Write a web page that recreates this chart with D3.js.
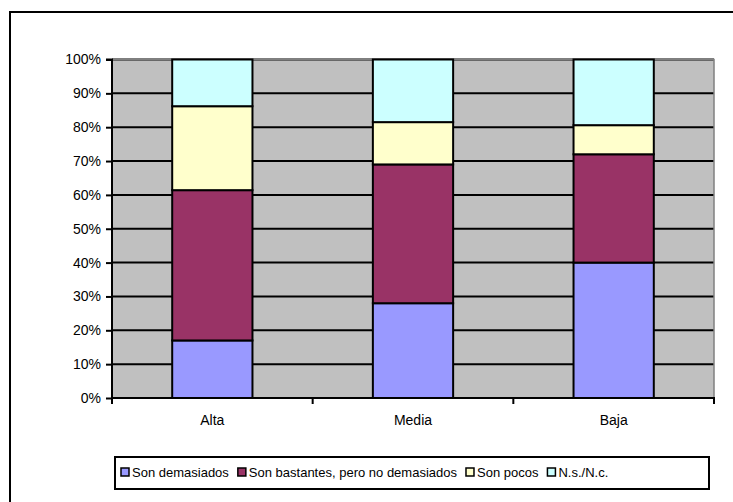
<!DOCTYPE html>
<html><head><meta charset="utf-8">
<script src="https://cdn.jsdelivr.net/npm/d3@7"></script>
<style>body{margin:0;background:#fff}svg{display:block}text{font-family:"Liberation Sans",Arial,sans-serif}</style>
</head><body><svg id="c" width="733" height="502"></svg>
<script>
const categories = ["Alta", "Media", "Baja"];
const seriesNames = ["Son demasiados", "Son bastantes, pero no demasiados", "Son pocos", "N.s./N.c."];
const demasiados = [17, 28, 40];
const bastantes = [44.4, 41, 32];
const pocos = [24.8, 12.5, 8.6];
const nsnc = [13.8, 18.5, 19.4];
const colors = ["#9999FF", "#993366", "#FFFFCC", "#CCFFFF"];
const yTicks = [0,10,20,30,40,50,60,70,80,90,100];

const svg = d3.select("#c");
const L = 112, R = 714, T = 59.5, B = 398;
const x = d3.scaleBand().domain(categories).range([L, R]).paddingInner(0.6).paddingOuter(0.3);
const y = d3.scaleLinear().domain([0, 100]).range([B, T]);

// outer frame
svg.append("rect").attr("x", 10).attr("y", 12).attr("width", 740).attr("height", 500)
  .attr("fill", "none").attr("stroke", "#000").attr("stroke-width", 2);

// plot background
svg.append("rect").attr("x", L).attr("y", T).attr("width", R - L).attr("height", B - T).attr("fill", "#C0C0C0");
// gridlines
svg.append("g").selectAll("line").data(yTicks.slice(1)).join("line")
  .attr("x1", L).attr("x2", R).attr("y1", d => y(d)).attr("y2", d => y(d))
  .attr("stroke", "#000").attr("stroke-width", 2);
// plot border right/top gray
svg.append("path").attr("d", `M${L},${T}H${R}V${B}`).attr("fill", "none").attr("stroke", "#808080").attr("stroke-width", 1.5);

// stacked bars
const data = categories.map((c, i) => ({cat: c, v: [demasiados[i], bastantes[i], pocos[i], nsnc[i]]}));
data.forEach(d => {
  let acc = 0;
  d.v.forEach((v, j) => {
    svg.append("rect").attr("x", x(d.cat)).attr("width", x.bandwidth())
      .attr("y", y(Math.min(100, acc + v))).attr("height", y(acc) - y(Math.min(100, acc + v)))
      .attr("fill", colors[j]).attr("stroke", "#000").attr("stroke-width", 2);
    acc += v;
  });
});

// y axis
const yAxis = d3.axisLeft(y).tickValues(yTicks).tickFormat(d => d + "%").tickSize(6).tickPadding(5);
const gy = svg.append("g").attr("transform", `translate(${L},0)`).call(yAxis);
gy.select(".domain").attr("stroke", "#000").attr("stroke-width", 2).attr("d", `M${-6},${T}H0V${B}`);
gy.selectAll(".tick line").attr("stroke", "#000").attr("stroke-width", 2);
gy.selectAll("text").attr("font-size", 14).attr("fill", "#000");

// x axis
const step = (R - L) / categories.length;
const gx = svg.append("g");
gx.append("line").attr("x1", L - 1).attr("x2", R + 1).attr("y1", B).attr("y2", B).attr("stroke", "#000").attr("stroke-width", 2);
gx.selectAll("line.t").data(d3.range(categories.length + 1)).join("line").attr("class", "t")
  .attr("x1", i => L + i * step).attr("x2", i => L + i * step).attr("y1", B).attr("y2", B + 6)
  .attr("stroke", "#000").attr("stroke-width", 2);
gx.selectAll("text").data(categories).join("text")
  .attr("x", d => x(d) + x.bandwidth() / 2).attr("y", 425).attr("text-anchor", "middle")
  .attr("font-size", 14).text(d => d);

// legend
svg.append("rect").attr("x", 115).attr("y", 457).attr("width", 594).attr("height", 32)
  .attr("fill", "#fff").attr("stroke", "#000").attr("stroke-width", 2);
const lg = svg.append("g");
let lx = 121;
seriesNames.forEach((n, i) => {
  lg.append("rect").attr("x", lx).attr("y", 468).attr("width", 8).attr("height", 8)
    .attr("fill", colors[i]).attr("stroke", "#000").attr("stroke-width", 1.5);
  const t = lg.append("text").attr("x", lx + 11).attr("y", 477).attr("font-size", 13).text(n);
  lx += 11 + t.node().getComputedTextLength() + 9;
});
</script></body></html>
